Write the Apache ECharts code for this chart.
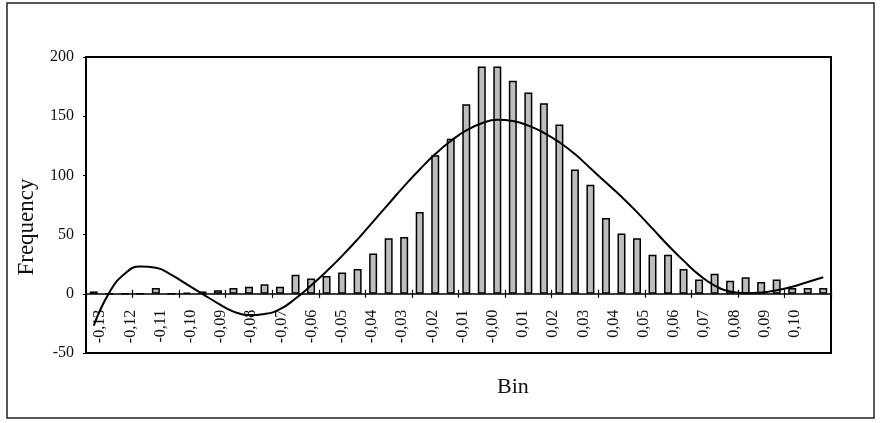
<!DOCTYPE html>
<html><head><meta charset="utf-8">
<script src="https://cdn.jsdelivr.net/npm/echarts@6/dist/echarts.min.js"></script>
<style>html,body{margin:0;padding:0;background:#fff}#c{width:880px;height:423px}</style>
</head><body><div id="c"></div>
<script>
// Histogram bins (bar categories)
const binCategories = ['-0.130','-0.125','-0.120','-0.115','-0.110','-0.105','-0.100','-0.095','-0.090','-0.085',
  '-0.080','-0.075','-0.070','-0.065','-0.060','-0.055','-0.050','-0.045','-0.040','-0.035',
  '-0.030','-0.025','-0.020','-0.015','-0.010','-0.005','0.000','0.005','0.010','0.015',
  '0.020','0.025','0.030','0.035','0.040','0.045','0.050','0.055','0.060','0.065',
  '0.070','0.075','0.080','0.085','0.090','0.095','0.100','0.105'];
// Frequency per bin
const frequency = [2,0,0,0,5,0,1,2,3,5,
  6,8,6,16,13,15,18,21,34,47,
  48,69,117,131,160,192,192,180,170,161,
  143,105,92,64,51,47,33,33,21,12,
  17,11,14,10,12,5,5,5];
// Polynomial trend line read at each bin
const trendline = [-27,1,17,23,22,16,8,0,-8,-15,
  -18,-17,-13,-4,7,19,32,46,61,76,
  91,105,118,129,138,144,147,146,142,136,
  128,118,106,94,82,69,55,41,28,16,
  7,2,0.5,1,3,6,10,14];
// Bin tick labels as printed under the axis
const binLabels = ['-0,13','-0,12','-0,11','-0,10','-0,09','-0,08','-0,07','-0,06','-0,05','-0,04',
  '-0,03','-0,02','-0,01','-0,00','0,01','0,02','0,03','0,04','0,05','0,06','0,07','0,08','0,09','0,10'];
const yMin = -50, yMax = 200, yStep = 50;

// layout: plot frame and the pixel row of the zero line
const W = 880, H = 423, plotTop = 57, plotBottom = 353, plotLeft = 86, plotRight = 831;
const zeroY = plotBottom - (0 - yMin) / (yMax - yMin) * (plotBottom - plotTop);
const zeroBottom = H - zeroY;

const serif = '"Liberation Serif","Times New Roman",serif';
const hiddenY = (g) => ({gridIndex: g, type: 'value', min: yMin, max: yMax, interval: yStep, show: false});
const chart = echarts.init(document.getElementById('c'), null, {renderer: 'canvas'});
chart.setOption({
  animation: false,
  backgroundColor: '#fff',
  title: {text: 'Bin', left: 497, top: 376, padding: 0,
    textStyle: {fontFamily: serif, fontSize: 22, fontWeight: 'normal', color: '#111'}},
  graphic: [{type: 'rect', silent: true, shape: {x: 7, y: 3, width: 867, height: 415},
    style: {fill: 'none', stroke: '#222', lineWidth: 1.5}}],
  grid: [
    {left: plotLeft, right: W - plotRight, top: plotTop, bottom: H - plotBottom, show: true,
      borderColor: '#000', borderWidth: 2, backgroundColor: 'transparent'},
    {left: 85, right: 70, top: plotTop, bottom: zeroBottom},
    {left: plotLeft, right: W - plotRight, top: plotTop, bottom: zeroBottom}
  ],
  xAxis: [
    {gridIndex: 0, type: 'category', position: 'bottom', data: binCategories,
      axisLine: {show: true, onZero: true, lineStyle: {color: '#000', width: 1.5}},
      axisTick: {show: true, length: 4, lineStyle: {color: '#000', width: 1.2}},
      axisLabel: {show: false}, splitLine: {show: false}},
    {gridIndex: 1, type: 'category', position: 'bottom', data: binLabels,
      axisLine: {show: false, onZero: false}, axisTick: {show: false},
      axisLabel: {rotate: 90, margin: 16, interval: 0, fontFamily: serif, fontSize: 16, color: '#111'},
      splitLine: {show: false}},
    {gridIndex: 2, type: 'category', position: 'bottom', data: binCategories,
      axisLine: {show: false, onZero: false},
      axisTick: {show: true, inside: true, length: 4, lineStyle: {color: '#000', width: 1.2}},
      axisLabel: {show: false}, splitLine: {show: false}}
  ],
  yAxis: [
    {gridIndex: 0, type: 'value', position: 'left', min: yMin, max: yMax, interval: yStep,
      name: 'Frequency', nameLocation: 'middle', nameGap: 48, nameRotate: 90,
      nameTextStyle: {fontFamily: serif, fontSize: 23, color: '#111', padding: [0, 44, 0, 0]},
      axisLine: {show: true, lineStyle: {color: '#000', width: 2}},
      axisTick: {show: true, length: 3, lineStyle: {color: '#000'}},
      axisLabel: {margin: 12, fontFamily: serif, fontSize: 16, color: '#111'},
      splitLine: {show: false}},
    hiddenY(1),
    hiddenY(2)
  ],
  series: [
    {type: 'bar', xAxisIndex: 0, yAxisIndex: 0, data: frequency, barWidth: 8,
      itemStyle: {color: '#bdbdbd', borderColor: '#000', borderWidth: 1.5}},
    {type: 'line', xAxisIndex: 0, yAxisIndex: 0, data: trendline, smooth: true, symbol: 'none', z: 5,
      lineStyle: {color: '#000', width: 2}}
  ]
});
</script></body></html>
